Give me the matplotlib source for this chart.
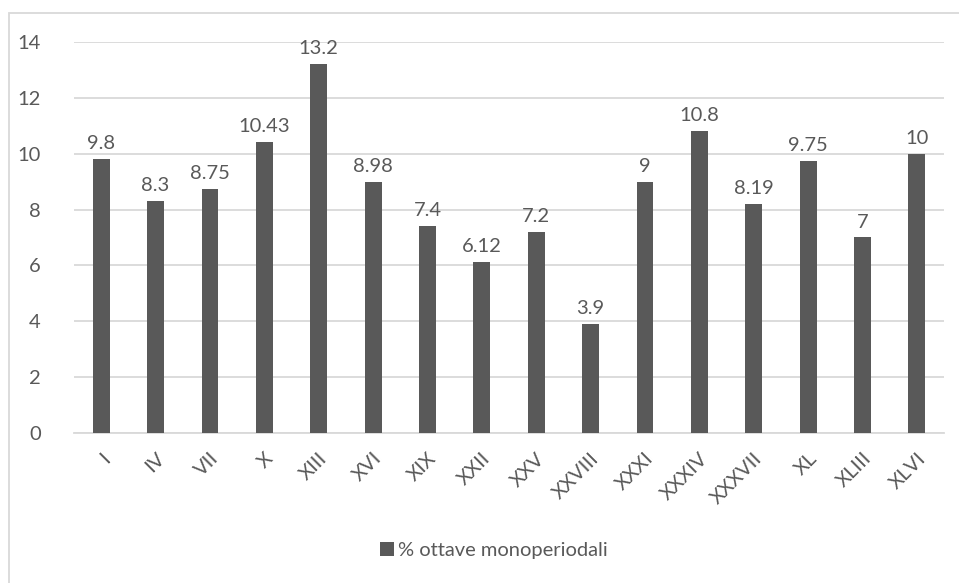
import matplotlib
matplotlib.use("Agg")
import matplotlib.pyplot as plt
from matplotlib.patches import Rectangle

categories = ["I", "IV", "VII", "X", "XIII", "XVI", "XIX", "XXII", "XXV",
              "XXVIII", "XXXI", "XXXIV", "XXXVII", "XL", "XLIII", "XLVI"]
values = [9.8, 8.3, 8.75, 10.43, 13.2, 8.98, 7.4, 6.12, 7.2,
          3.9, 9, 10.8, 8.19, 9.75, 7, 10]
labels = ["9.8", "8.3", "8.75", "10.43", "13.2", "8.98", "7.4", "6.12", "7.2",
          "3.9", "9", "10.8", "8.19", "9.75", "7", "10"]
series_name = "% ottave monoperiodali"

BAR = "#595959"
TXT = "#595959"
GRID = "#d9d9d9"
FS = 14.5

plt.rcParams["font.family"] = ["Lato", "DejaVu Sans"]

fig = plt.figure(figsize=(9.59, 5.83), dpi=100)
ax = fig.add_axes([0.0772, 0.2573, 0.9072, 0.6707])

x = range(len(categories))
bars = ax.bar(x, values, width=0.31, color=BAR, label=series_name, zorder=3)
for b, t in zip(bars, labels):
    ax.annotate(t, (b.get_x() + b.get_width() / 2, b.get_height()),
                xytext=(0, 5), textcoords="offset points",
                ha="center", va="bottom", fontsize=FS, color=TXT)

ax.set_xlim(-0.5, len(categories) - 0.5)
ax.set_ylim(0, 14)
ax.set_yticks(range(0, 15, 2))
ax.grid(axis="y", color=GRID, linewidth=1.3, zorder=0)
ax.set_xticks(list(x))
ax.set_xticklabels(categories, rotation=45, ha="right", va="top",
                   rotation_mode="anchor")
ax.tick_params(axis="x", length=0, pad=12, labelsize=FS, labelcolor=TXT)
ax.tick_params(axis="y", length=0, pad=24, labelsize=FS, labelcolor=TXT)
for s in ["top", "right", "left"]:
    ax.spines[s].set_visible(False)
ax.spines["bottom"].set_color(GRID)
ax.spines["bottom"].set_linewidth(1.3)

fig.legend(loc="center", bbox_to_anchor=(0.515, 0.055), frameon=False,
           fontsize=FS, handlelength=0.7, handleheight=0.7,
           handletextpad=0.2, labelcolor=TXT)

# chart border (only top and left edges visible in the crop)
fig.patches.append(Rectangle((9 / 959, -0.1), 1.1, 1 - 13 / 583 + 0.1,
                             transform=fig.transFigure, fill=False,
                             edgecolor=GRID, linewidth=1.3))

fig.savefig("out.png", dpi=100)
